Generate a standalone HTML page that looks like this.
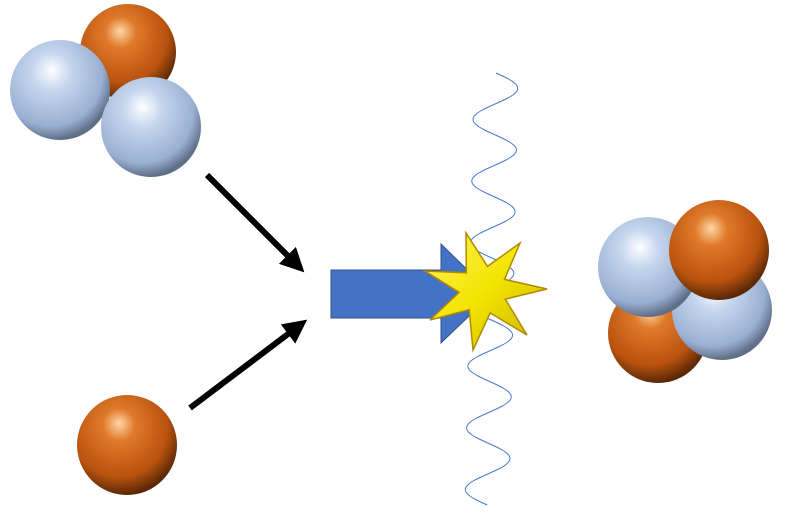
<!DOCTYPE html>
<html><head><meta charset="utf-8"><style>html,body{margin:0;padding:0;background:#fff}svg{display:block}</style></head>
<body>
<svg width="800" height="530" viewBox="0 0 800 530" xmlns="http://www.w3.org/2000/svg">
<defs>
<radialGradient id="bl" cx="0.4" cy="0.35" r="0.65" fx="0.42" fy="0.3">
<stop offset="0" stop-color="#ffffff"/><stop offset="0.3" stop-color="#c5d6ee"/><stop offset="0.8" stop-color="#9ab0d2"/><stop offset="1" stop-color="#5f6f88"/></radialGradient>
<radialGradient id="or" cx="0.42" cy="0.35" r="0.65" fx="0.42" fy="0.28">
<stop offset="0" stop-color="#ffd6a8"/><stop offset="0.25" stop-color="#e07a2a"/><stop offset="0.75" stop-color="#b8520e"/><stop offset="1" stop-color="#5a2806"/></radialGradient>
<linearGradient id="st" x1="0" y1="0" x2="1" y2="1"><stop offset="0" stop-color="#fff35a"/><stop offset="0.5" stop-color="#f2e400"/><stop offset="1" stop-color="#c9b000"/></linearGradient>
<marker id="ah" markerWidth="4" markerHeight="4" refX="2.5" refY="2" orient="auto" markerUnits="strokeWidth"><path d="M0,0 L4,2 L0,4 Z" fill="#000"/></marker>
</defs>
<path id="wave" fill="none" stroke="#4a78d0" stroke-width="1"/>
<circle cx="128" cy="52" r="48" fill="url(#or)"/>
<circle cx="60" cy="90" r="50" fill="url(#bl)"/>
<circle cx="151" cy="127" r="50" fill="url(#bl)"/>
<circle cx="127" cy="445" r="50" fill="url(#or)"/>
<circle cx="658" cy="333" r="50" fill="url(#or)"/>
<circle cx="722" cy="310" r="50" fill="url(#bl)"/>
<circle cx="648" cy="267" r="50" fill="url(#bl)"/>
<circle cx="719" cy="250" r="50" fill="url(#or)"/>
<line x1="207" y1="175" x2="298" y2="266" stroke="#000" stroke-width="6" marker-end="url(#ah)"/>
<line x1="190" y1="408" x2="300" y2="325" stroke="#000" stroke-width="6" marker-end="url(#ah)"/>
<path d="M331,270 L441,270 L441,244 L492,294 L441,343 L441,318 L331,318 Z" fill="#4472c4" stroke="#2f528f" stroke-width="1"/>
<polygon id="star" fill="url(#st)" stroke="#b08a00" stroke-width="1.5"/>
</svg>
<script>
(function(){
var d="";for(var y=73;y<=505;y+=1){var t=(y-73)/432;var c=496-9*t;var x=c+22*Math.sin(2*Math.PI*(y-73)/61.7);d+=(y==73?"M":"L")+x.toFixed(1)+","+y+" ";}
document.getElementById("wave").setAttribute("d",d);
var tips=[[547,289],[520,243],[466,233],[425,271],[430,320],[473,350],[527,335]];
var cx=483,cy=290,p="";
for(var i=0;i<7;i++){var a=tips[i],b=tips[(i+1)%7];p+=a[0]+","+a[1]+" ";
var ang1=Math.atan2(a[1]-cy,a[0]-cx),ang2=Math.atan2(b[1]-cy,b[0]-cx);
var da=ang2-ang1;while(da>Math.PI)da-=2*Math.PI;while(da<-Math.PI)da+=2*Math.PI;
var m=ang1+da/2;p+=(cx+24*Math.cos(m)).toFixed(1)+","+(cy+24*Math.sin(m)).toFixed(1)+" ";}
document.getElementById("star").setAttribute("points",p);
})();
</script>
</body></html>
